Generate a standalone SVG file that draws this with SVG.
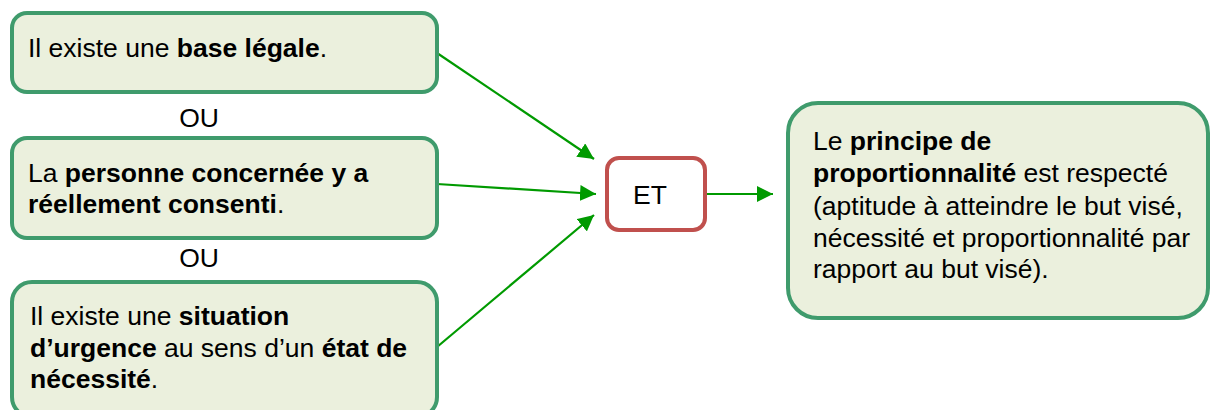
<svg xmlns="http://www.w3.org/2000/svg" width="1211" height="410" viewBox="0 0 1211 410">
<defs>
<style>
.box{fill:#ebf0dd;stroke:#3f9b6c;stroke-width:4}
.et{fill:#ffffff;stroke:#c0504d;stroke-width:4}
text{font-family:"Liberation Sans",Arial,sans-serif;font-size:26.5px;fill:#000}
.b{font-weight:bold}
.c{stroke:#009a00;stroke-width:2.2;fill:none}
</style>
<marker id="ah" markerWidth="16" markerHeight="16" viewBox="0 0 16 16" refX="16" refY="8" orient="auto" markerUnits="userSpaceOnUse">
<path d="M0,0 L16,8 L0,16 Z" fill="#009a00"/>
</marker>
</defs>
<rect width="1211" height="410" fill="#ffffff"/>
<g id="connectors">
<line class="c" x1="437" y1="53" x2="594" y2="159" marker-end="url(#ah)"/>
<line class="c" x1="437" y1="184" x2="596" y2="194" marker-end="url(#ah)"/>
<line class="c" x1="437" y1="347" x2="594" y2="215" marker-end="url(#ah)"/>
<line class="c" x1="704" y1="194" x2="773" y2="194" marker-end="url(#ah)"/>
</g>
<g id="n1">
<rect class="box" x="12" y="13" width="425" height="79" rx="15"/>
<text x="28" y="57">Il existe une <tspan class="b">base légale</tspan>.</text>
</g>
<g id="ou1"><text x="199" y="127" text-anchor="middle">OU</text></g>
<g id="n2">
<rect class="box" x="12" y="138" width="425" height="100" rx="15"/>
<text x="28" y="182">La <tspan class="b">personne concernée y a</tspan></text>
<text x="28" y="213" class="b">réellement consenti<tspan font-weight="normal">.</tspan></text>
</g>
<g id="ou2"><text x="199" y="267" text-anchor="middle">OU</text></g>
<g id="n3">
<rect class="box" x="12" y="282" width="425" height="135" rx="20"/>
<text x="30" y="325">Il existe une <tspan class="b">situation</tspan></text>
<text x="30" y="357"><tspan class="b">d’urgence</tspan> au sens d’un <tspan class="b">état de</tspan></text>
<text x="30" y="388"><tspan class="b">nécessité</tspan>.</text>
</g>
<g id="et">
<rect class="et" x="607" y="158" width="98" height="72" rx="12"/>
<text x="650" y="204" text-anchor="middle">ET</text>
</g>
<g id="n4">
<rect class="box" x="788" y="103" width="420" height="215" rx="30"/>
<text x="813" y="150">Le <tspan class="b">principe de</tspan></text>
<text x="813" y="182"><tspan class="b">proportionnalité</tspan> est respecté</text>
<text x="813" y="215">(aptitude à atteindre le but visé,</text>
<text x="813" y="247">nécessité et proportionnalité par</text>
<text x="813" y="278">rapport au but visé).</text>
</g>
</svg>
